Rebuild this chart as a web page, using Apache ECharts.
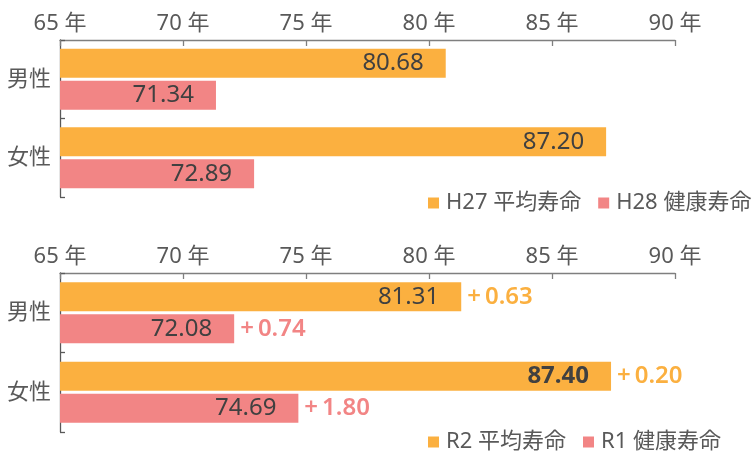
<!DOCTYPE html>
<html><head><meta charset="utf-8">
<script src="https://cdn.jsdelivr.net/npm/echarts@6/dist/echarts.min.js"></script>
<style>html,body{margin:0;padding:0;background:#fff}#c{width:755px;height:452px}</style>
</head><body><div id="c"></div>
<script>
const categories = ['男性', '女性'];
const xTicks = [65, 70, 75, 80, 85, 90];
const topNames = ['H27 平均寿命', 'H28 健康寿命'];
const topAvg = [80.68, 87.20];
const topHealth = [71.34, 72.89];
const botNames = ['R2 平均寿命', 'R1 健康寿命'];
const botAvg = [81.31, 87.40];
const botHealth = [72.08, 74.69];
const diffAvg = [0.63, 0.20];
const diffHealth = [0.74, 1.80];

const ORANGE = '#FBB040', PINK = '#F28585';
const FONT = '"Noto Sans", "Noto Sans CJK JP", sans-serif';
const chart = echarts.init(document.getElementById('c'));

function xAxis(gi) {
  return {
    gridIndex: gi, type: 'value', position: 'top',
    min: xTicks[0], max: xTicks[xTicks.length - 1], interval: 5,
    splitLine: { show: false },
    axisLine: { show: true, lineStyle: { color: '#7f7f7f', width: 1.3 } },
    axisTick: { show: true, inside: true, length: 6, lineStyle: { color: '#7f7f7f', width: 1.3 } },
    axisLabel: { formatter: '{value} 年', fontSize: 22, color: '#595959', fontFamily: FONT, margin: 5 }
  };
}
function yAxis(gi, show) {
  return {
    gridIndex: gi, type: 'category', data: categories, inverse: true, show: show,
    axisLine: { show: true, lineStyle: { color: '#595959', width: 1.3 } },
    axisTick: { show: true, inside: true, length: 5, lineStyle: { color: '#595959', width: 1.3 } },
    axisLabel: { fontSize: 22, color: '#595959', fontFamily: FONT, margin: 9 }
  };
}
const inLabel = { show: true, position: 'insideRight', distance: 22, fontSize: 24, color: '#404040',
  fontFamily: FONT, formatter: p => p.value.toFixed(2) };

function bar(name, data, color, xi, yi) {
  return { name, type: 'bar', xAxisIndex: xi, yAxisIndex: yi, data, barWidth: 29, barGap: '10%',
    itemStyle: { color }, label: inLabel, silent: true };
}
function diffBar(vals, diffs, color) {
  return { name: 'diff', type: 'bar', xAxisIndex: 1, yAxisIndex: 2, data: vals, barWidth: 29, barGap: '10%',
    itemStyle: { color: 'rgba(0,0,0,0)' }, silent: true,
    label: { show: true, position: 'right', distance: 6, fontSize: 24, fontWeight: 600, color, fontFamily: FONT,
      formatter: p => '+\u2009' + diffs[p.dataIndex].toFixed(2) } };
}

const botAvgData = botAvg.map((v, i) => i === 1 ? { value: v, label: { fontWeight: 'bold' } } : v);

const legendBase = { left: 428, width: 340, padding: 0, itemWidth: 11, itemHeight: 11, itemGap: 17, icon: 'rect',
  textStyle: { fontSize: 22, color: '#595959', fontFamily: FONT, padding: [0, 0, 0, 2] } };

chart.setOption({
  animation: false,
  grid: [
    { left: 60, right: 80, top: 40, height: 157 },
    { left: 60, right: 80, top: 273, height: 159 }
  ],
  legend: [
    Object.assign({}, legendBase, { top: 192, data: topNames }),
    Object.assign({}, legendBase, { top: 431, data: botNames })
  ],
  xAxis: [xAxis(0), xAxis(1)],
  yAxis: [yAxis(0, true), yAxis(1, true), yAxis(1, false)],
  series: [
    bar(topNames[0], topAvg, ORANGE, 0, 0),
    bar(topNames[1], topHealth, PINK, 0, 0),
    bar(botNames[0], botAvgData, ORANGE, 1, 1),
    bar(botNames[1], botHealth, PINK, 1, 1),
    diffBar(botAvg, diffAvg, ORANGE),
    diffBar(botHealth, diffHealth, PINK)
  ]
});
</script></body></html>
